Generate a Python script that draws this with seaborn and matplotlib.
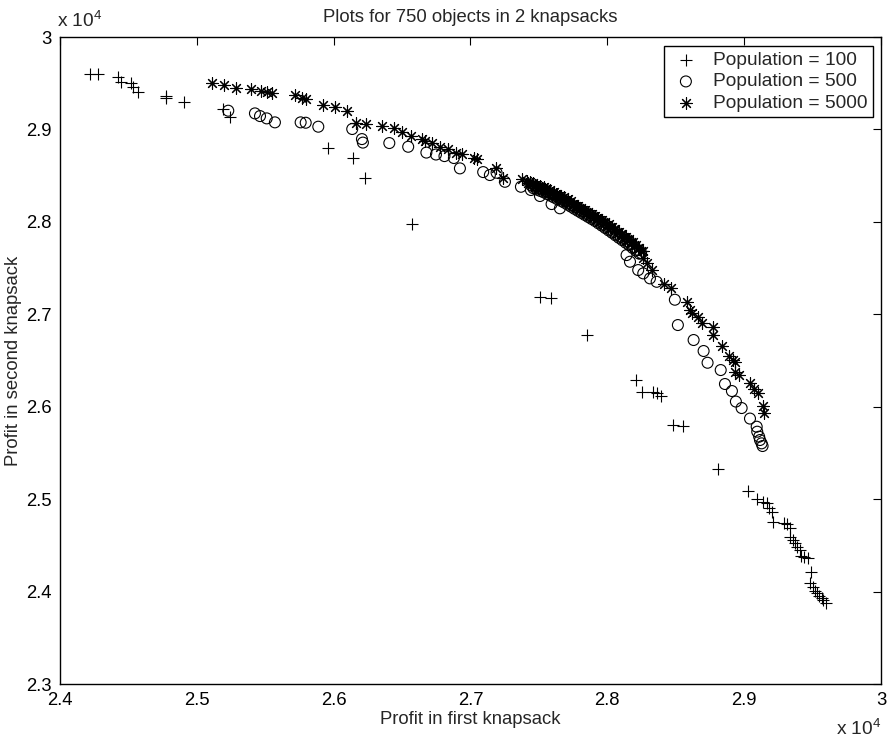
import matplotlib
matplotlib.use("Agg")
import matplotlib.pyplot as plt
import seaborn as sns
from matplotlib.ticker import FuncFormatter

# --- DATA (profits) ---
pop100_x = [24219, 24280, 24426, 24444, 24519, 24536, 24572, 24775, 24775, 24908,
            25189, 25242, 25956, 26143, 26229, 26570, 27508, 27588, 27849, 28209,
            28251, 28336, 28361, 28390, 28482, 28555, 28811, 29030, 29091, 29140,
            29165, 29184, 29201, 29208, 29293, 29311, 29335, 29335, 29355, 29371,
            29388, 29408, 29415, 29439, 29469, 29488, 29481, 29505, 29518, 29534,
            29549, 29566, 29578, 29598]
pop100_y = [29596, 29596, 29564, 29510, 29499, 29456, 29408, 29362, 29337, 29293,
            29221, 29138, 28802, 28694, 28478, 27974, 27190, 27173, 26776, 26289,
            26162, 26162, 26145, 26116, 25802, 25795, 25326, 25088, 24998, 24972,
            24955, 24901, 24864, 24756, 24745, 24731, 24685, 24594, 24558, 24522,
            24485, 24450, 24385, 24371, 24360, 24215, 24090, 24053, 24009, 23981,
            23952, 23934, 23909, 23873]

# population 500: sparse upper-left part, the dense band, then the lower tail
pop500_x = [25230, 25425, 25462, 25511, 25571, 25759, 25796, 25888, 26136, 26207,
            26214, 26407, 26545, 26678, 26748, 26810, 26879, 26923, 27093, 27142,
            27191, 27252, 27369, 27442, 27508, 27593, 27654,
            27460, 27485, 27510, 27535, 27560, 27585, 27610, 27635, 27660, 27685,
            27710, 27735, 27760, 27785, 27810, 27835, 27860, 27885, 27910, 27935,
            27960, 27985, 28010, 28035, 28060, 28085, 28110, 28135, 28160, 28185,
            28210, 28235,
            27447, 27472, 27497, 27522, 27547, 27572, 27597, 27622, 27647, 27672,
            27697, 27722, 27747, 27772, 27797, 27822, 27847, 27872, 27897, 27922,
            27947, 27972, 27997, 28022, 28047, 28072, 28097, 28122, 28147, 28172,
            28197, 28222, 28247,
            28141, 28166, 28226, 28263, 28312, 28361, 28494, 28516, 28631, 28704,
            28733, 28829, 28860, 28911, 28940, 28982, 29043, 29092, 29096, 29110,
            29116, 29128, 29135]
pop500_y = [29203, 29174, 29145, 29120, 29077, 29077, 29073, 29030, 29005, 28896,
            28858, 28853, 28813, 28750, 28729, 28712, 28691, 28579, 28539, 28507,
            28532, 28434, 28380, 28345, 28280, 28193, 28147,
            28365, 28350, 28335, 28320, 28302, 28283, 28265, 28246, 28228, 28209,
            28187, 28165, 28142, 28120, 28098, 28076, 28054, 28032, 28010, 27985,
            27960, 27934, 27908, 27882, 27855, 27828, 27802, 27775, 27748, 27718,
            27688, 27656,
            28392, 28378, 28363, 28348, 28332, 28316, 28297, 28279, 28260, 28241,
            28220, 28198, 28176, 28154, 28131, 28109, 28087, 28065, 28043, 28020,
            27995, 27969, 27943, 27916, 27890, 27864, 27839, 27813, 27788, 27760,
            27728, 27696, 27663,
            27641, 27569, 27479, 27443, 27389, 27352, 27158, 26884, 26722, 26603,
            26476, 26397, 26246, 26170, 26056, 25986, 25872, 25784, 25730, 25676,
            25640, 25604, 25575]

# population 5000
pop5000_x = [25109, 25201, 25284, 25394, 25469, 25511, 25553, 25715, 25772, 25800,
             25924, 26010, 26095, 26163, 26233, 26355, 26442, 26501, 26565, 26643,
             26667, 26716, 26777, 26838, 26894, 26936, 27026, 27045, 27186, 27240,
             27376,
             27410, 27435, 27460, 27485, 27510, 27535, 27560, 27585, 27610, 27635,
             27660, 27685, 27710, 27735, 27760, 27785, 27810, 27835, 27860, 27885,
             27910, 27935, 27960, 27985, 28010, 28035, 28060, 28085, 28110, 28135,
             28160, 28185, 28210, 28235, 28260,
             27422, 27447, 27472, 27497, 27522, 27547, 27572, 27597, 27622, 27647,
             27672, 27697, 27722, 27747, 27772, 27797, 27822, 27847, 27872, 27897,
             27922, 27947, 27972, 27997, 28022, 28047, 28072, 28097, 28122, 28147,
             28172, 28197, 28222, 28247,
             28263, 28287, 28324, 28412, 28465, 28580, 28604, 28616, 28665, 28690,
             28770, 28774, 28836, 28887, 28920, 28933, 28933, 28960, 29043, 29070,
             29100, 29140, 29145]
pop5000_y = [29505, 29481, 29448, 29440, 29416, 29402, 29391, 29376, 29345, 29326,
             29268, 29240, 29199, 29073, 29056, 29033, 29012, 28975, 28929, 28902,
             28878, 28854, 28815, 28784, 28750, 28732, 28694, 28680, 28579, 28471,
             28461,
             28446, 28432, 28418, 28404, 28390, 28375, 28361, 28342, 28323, 28304,
             28285, 28266, 28244, 28222, 28199, 28177, 28155, 28133, 28111, 28089,
             28067, 28044, 28020, 27997, 27973, 27949, 27922, 27894, 27866, 27839,
             27811, 27779, 27746, 27713, 27681,
             28424, 28410, 28396, 28382, 28367, 28353, 28337, 28318, 28299, 28280,
             28261, 28240, 28218, 28195, 28173, 28151, 28129, 28107, 28085, 28063,
             28041, 28017, 27994, 27970, 27946, 27920, 27893, 27866, 27838, 27811,
             27782, 27750, 27718, 27686,
             27606, 27552, 27479, 27331, 27290, 27131, 27046, 27010, 26974, 26911,
             26866, 26776, 26659, 26551, 26505, 26480, 26379, 26340, 26262, 26192,
             26145, 26003, 25937]

x_ticks = [24000, 25000, 26000, 27000, 28000, 29000, 30000]
y_ticks = [23000, 24000, 25000, 26000, 27000, 28000, 29000, 30000]


def main():
    sns.set_theme(style="white")
    plt.rcParams['font.family'] = ['Liberation Sans', 'DejaVu Sans']
    plt.rcParams['mathtext.fontset'] = 'custom'
    plt.rcParams['mathtext.rm'] = 'Liberation Sans'

    fig = plt.figure(figsize=(8.91, 7.41), dpi=100)
    ax = fig.add_axes([0.0673, 0.0769, 0.9214, 0.8731])

    sns.scatterplot(x=pop100_x, y=pop100_y, ax=ax, marker='+', s=75,
                    color='black', linewidth=0.8, label='Population = 100')
    sns.scatterplot(x=pop500_x, y=pop500_y, ax=ax, marker='o', s=62,
                    color='black', facecolors='none', edgecolor='black',
                    linewidth=0.8, label='Population = 500')
    sns.scatterplot(x=pop5000_x, y=pop5000_y, ax=ax, marker=(8, 2, 0), s=70,
                    color='black', linewidth=0.8, label='Population = 5000')

    ax.set_xlim(24000, 30000)
    ax.set_ylim(23000, 30000)
    ax.set_xticks(x_ticks)
    ax.set_yticks(y_ticks)
    fmt = FuncFormatter(lambda v, pos: '%g' % (v / 1e4))
    ax.xaxis.set_major_formatter(fmt)
    ax.yaxis.set_major_formatter(fmt)

    ax.tick_params(direction='in', length=5.5, width=0.8, top=True, right=True,
                   labelsize=13.3, colors='black', pad=6)
    for sp in ax.spines.values():
        sp.set_color('black')
        sp.set_linewidth(1.0)

    ax.set_title('Plots for 750 objects in 2 knapsacks', fontsize=13.3, pad=11)
    ax.set_xlabel('Profit in first knapsack', fontsize=13.3)
    ax.set_ylabel('Profit in second knapsack', fontsize=13.3)
    ax.xaxis.set_label_coords(0.5, -0.041)
    ax.yaxis.set_label_coords(-0.046, 0.5)

    # MATLAB-style exponent labels
    ax.text(-0.004, 1.0155, r'x 10$^{\mathregular{4}}$', transform=ax.transAxes,
            ha='left', va='baseline', fontsize=13.8)
    ax.text(1.0, -0.079, r'x 10$^{\mathregular{4}}$', transform=ax.transAxes,
            ha='right', va='baseline', fontsize=13.8)

    leg = ax.legend(loc='upper right', bbox_to_anchor=(0.9903, 0.9861),
                    borderaxespad=0, fontsize=13.8, frameon=True, fancybox=False,
                    framealpha=1, edgecolor='black', borderpad=0.3,
                    labelspacing=0.2, handlelength=1.7, handletextpad=0.55)
    leg.get_frame().set_linewidth(1.0)

    plt.savefig('out.png', dpi=100)


if __name__ == "__main__":
    main()
